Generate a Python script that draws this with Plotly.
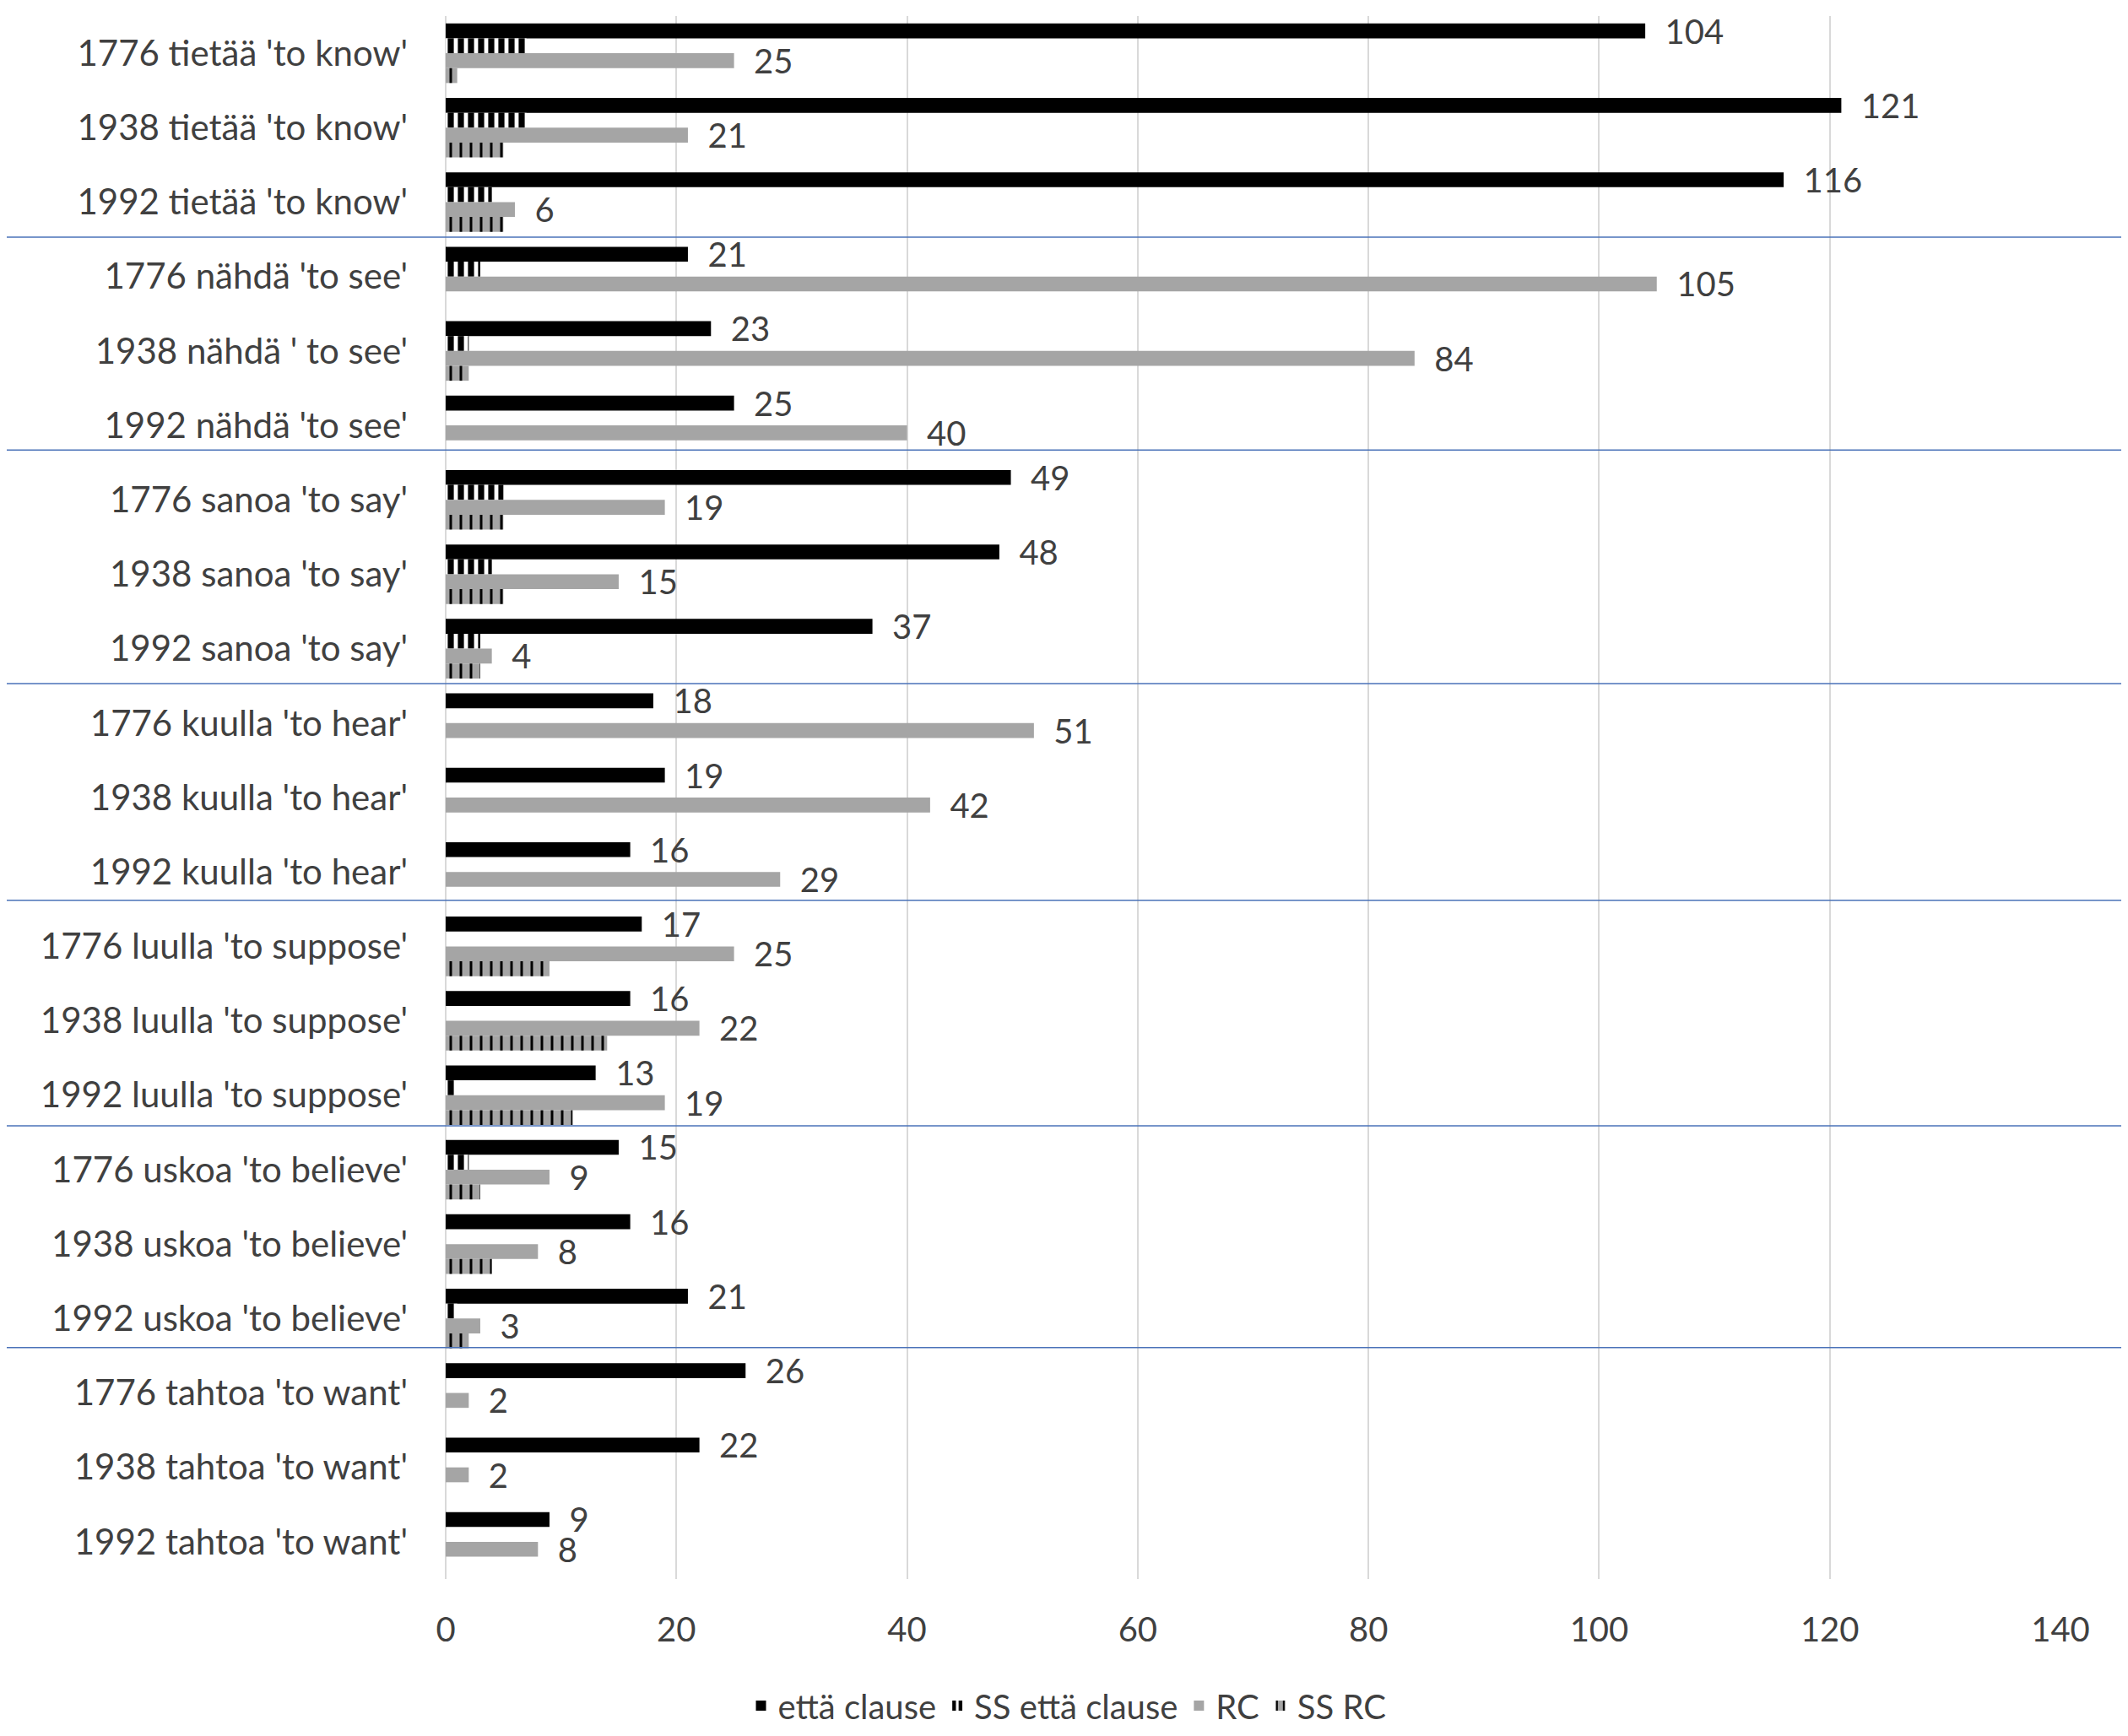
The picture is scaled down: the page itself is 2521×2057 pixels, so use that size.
import plotly.graph_objects as go

categories = [
    "1776 tietää 'to know'", "1938 tietää 'to know'", "1992 tietää 'to know'",
    "1776 nähdä 'to see'", "1938 nähdä ' to see'", "1992 nähdä 'to see'",
    "1776 sanoa 'to say'", "1938 sanoa 'to say'", "1992 sanoa 'to say'",
    "1776 kuulla 'to hear'", "1938 kuulla 'to hear'", "1992 kuulla 'to hear'",
    "1776 luulla 'to suppose'", "1938 luulla 'to suppose'", "1992 luulla 'to suppose'",
    "1776 uskoa 'to believe'", "1938 uskoa 'to believe'", "1992 uskoa 'to believe'",
    "1776 tahtoa 'to want'", "1938 tahtoa 'to want'", "1992 tahtoa 'to want'",
]
etta_clause = [104, 121, 116, 21, 23, 25, 49, 48, 37, 18, 19, 16, 17, 16, 13, 15, 16, 21, 26, 22, 9]
ss_etta_clause = [7, 7, 4, 3, 2, 0, 5, 4, 3, 0, 0, 0, 0, 0, 1, 2, 0, 1, 0, 0, 0]
rc = [25, 21, 6, 105, 84, 40, 19, 15, 4, 51, 42, 29, 25, 22, 19, 9, 8, 3, 2, 2, 8]
ss_rc = [1, 5, 5, 0, 2, 0, 5, 5, 3, 0, 0, 0, 9, 14, 11, 3, 4, 2, 0, 0, 0]
x_ticks = [0, 20, 40, 60, 80, 100, 120, 140]
group_size = 3

FONT = "Lato, Carlito, Calibri, sans-serif"
TXT = "#404040"
NB = "\u00a0\u00a0"

fig = go.Figure()
fig.add_trace(go.Bar(
    name="että clause", y=categories, x=etta_clause, orientation="h",
    marker=dict(color="#000000", line=dict(width=0)),
    text=[NB + str(v) for v in etta_clause], textposition="outside",
    textfont=dict(size=40, color=TXT, family=FONT), constraintext="none", cliponaxis=False,
))
fig.add_trace(go.Bar(
    name="SS että clause", y=categories, x=ss_etta_clause, orientation="h",
    marker=dict(color="#000000", line=dict(width=0),
                pattern=dict(shape="|", fgcolor="#000000", bgcolor="#ffffff",
                             size=12, solidity=0.6, fillmode="replace")),
))
fig.add_trace(go.Bar(
    name="RC", y=categories, x=rc, orientation="h",
    marker=dict(color="#a5a5a5", line=dict(width=0)),
    text=[NB + str(v) for v in rc], textposition="outside",
    textfont=dict(size=40, color=TXT, family=FONT), constraintext="none", cliponaxis=False,
))
fig.add_trace(go.Bar(
    name="SS RC", y=categories, x=ss_rc, orientation="h",
    marker=dict(color="#a5a5a5", line=dict(width=0),
                pattern=dict(shape="|", fgcolor="#000000", bgcolor="#a5a5a5",
                             size=12, solidity=0.25, fillmode="replace")),
))

# hand-drawn group separators sit slightly above the exact category boundaries
sep_nudge = [0.03, 0.17, 0.03, 0.12, 0.09, 0.11]
n_groups = len(categories) // group_size
shapes = []
for g in range(1, n_groups):
    yb = g * group_size - 0.5 - sep_nudge[g - 1]
    shapes.append(dict(type="line", xref="paper", yref="y", x0=-0.28, x1=1.05, y0=yb, y1=yb,
                       line=dict(color="#4a72b8", width=1.5), layer="above"))

fig.update_layout(
    width=2521, height=2057,
    margin=dict(l=520, r=88, t=11, b=173),
    barmode="group", bargap=0.2, bargroupgap=0,
    plot_bgcolor="white", paper_bgcolor="white",
    font=dict(family=FONT, size=40, color=TXT),
    showlegend=True,
    legend=dict(orientation="h", x=0.385, xanchor="center", y=-0.081, yanchor="middle",
                font=dict(size=40, color=TXT, family=FONT), traceorder="normal"),
    shapes=shapes,
)
fig.update_xaxes(range=[0, 140], tickvals=x_ticks, showgrid=True, gridcolor="#d9d9d9", gridwidth=2,
                 zeroline=True, zerolinecolor="#d9d9d9", zerolinewidth=2, showline=False,
                 tickfont=dict(size=40, color=TXT, family=FONT), ticklabelstandoff=33)
fig.update_yaxes(type="category", categoryorder="array", categoryarray=categories,
                 autorange="reversed", showgrid=False, showline=False, zeroline=False,
                 tickfont=dict(size=42, color=TXT, family=FONT), ticklabelstandoff=44)

fig.write_html("out.html")
